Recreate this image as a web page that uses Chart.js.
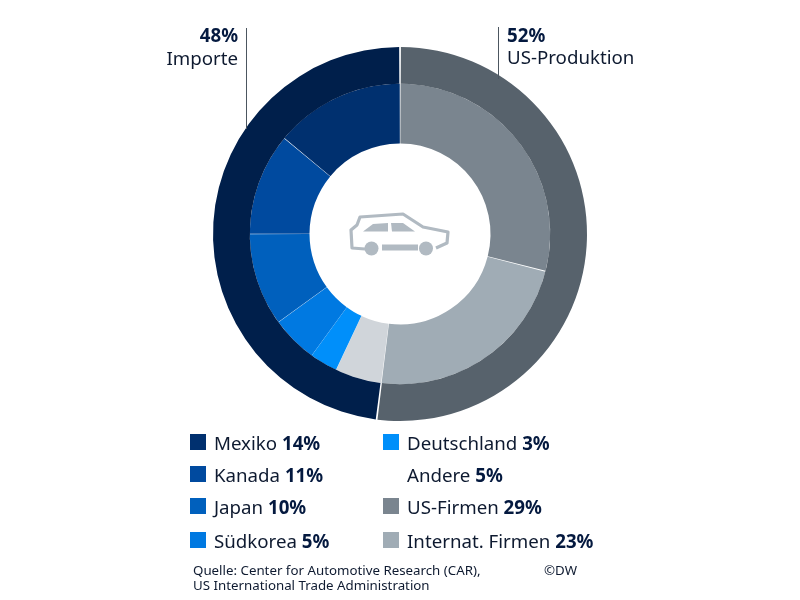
<!DOCTYPE html>
<html><head><meta charset="utf-8">
<style>html,body{margin:0;padding:0;background:#fff}#w{position:relative;width:800px;height:600px}</style>
<script src="https://cdn.jsdelivr.net/npm/chart.js@4"></script>
</head><body><div id="w"><canvas id="c" width="800" height="600"></canvas></div>
<script>
const groupLabels = ['US-Produktion', 'Importe'];
const groupValues = [52, 48];
const groupColors = ['#57626c', '#001f4b'];
const partLabels = ['US-Firmen', 'Internat. Firmen', 'Andere', 'Deutschland', 'Südkorea', 'Japan', 'Kanada', 'Mexiko'];
const partValues = [29, 23, 5, 3, 5, 10, 11, 14];
const partColors = ['#7a858f', '#a0acb5', '#d0d5da', '#008ffa', '#0079e1', '#0060bd', '#004a9f', '#00306f'];
const legendLeft = ['Mexiko', 'Kanada', 'Japan', 'Südkorea'];
const legendRight = ['Deutschland', 'Andere', 'US-Firmen', 'Internat. Firmen'];
const noSwatch = ['Andere'];
const sourceLines = ['Quelle: Center for Automotive Research (CAR),', 'US International Trade Administration'];
const credit = '©DW';
const FONT = '"Noto Sans"';
const INK = '#0e1a30', BOLD = '#04193f', LINE = '#4c5660', ICON = '#b1bac2';

const overlay = {
  id: 'overlay',
  afterDraw(chart) {
    const ctx = chart.ctx;
    ctx.save();
    ctx.textBaseline = 'alphabetic';
    const T = (s, x, y, font, col, align) => {
      ctx.font = font; ctx.fillStyle = col; ctx.textAlign = align || 'left'; ctx.fillText(s, x, y);
    };
    ctx.strokeStyle = LINE; ctx.lineWidth = 1;
    ctx.beginPath(); ctx.moveTo(246.5, 28); ctx.lineTo(246.5, 129); ctx.moveTo(498.5, 27); ctx.lineTo(498.5, 79); ctx.stroke();
    T(groupValues[1] + '%', 238, 42, 'bold 18.7px ' + FONT, BOLD, 'right');
    T(groupLabels[1], 238, 65, '18.7px ' + FONT, INK, 'right');
    T(groupValues[0] + '%', 507, 42, 'bold 18.7px ' + FONT, BOLD);
    T(groupLabels[0], 507, 64, '18.7px ' + FONT, INK);

    const rows = [450, 482, 514, 548];
    const drawCol = (names, sx, tx) => names.forEach((n, i) => {
      const k = partLabels.indexOf(n);
      if (!noSwatch.includes(n)) { ctx.fillStyle = partColors[k]; ctx.fillRect(sx, rows[i] - 16, 16, 16); }
      T(n + ' ', tx, rows[i], '18.7px ' + FONT, INK);
      const w = ctx.measureText(n + ' ').width;
      T(partValues[k] + '%', tx + w, rows[i], 'bold 18.7px ' + FONT, BOLD);
    });
    drawCol(legendLeft, 190, 214);
    drawCol(legendRight, 383, 407);

    T(sourceLines[0], 193, 575, '13.3px ' + FONT, INK);
    T(sourceLines[1], 193, 590, '13.3px ' + FONT, INK);
    T(credit, 544, 575, '13.3px ' + FONT, INK);

    // car icon, placed relative to the doughnut centre
    const cx = (chart.chartArea.left + chart.chartArea.right) / 2;
    const cy = (chart.chartArea.top + chart.chartArea.bottom) / 2;
    ctx.translate(cx, cy);
    ctx.strokeStyle = ICON; ctx.fillStyle = ICON; ctx.lineWidth = 3.2; ctx.lineJoin = 'round';
    ctx.beginPath();
    [[-35,15],[-48,14],[-49,-4],[-43,-9],[-40,-17],[3,-20],[23,-7],[48,-2],[47,9],[36,14]]
      .forEach((p, i) => i ? ctx.lineTo(p[0], p[1]) : ctx.moveTo(p[0], p[1]));
    ctx.stroke();
    ctx.fillRect(-18, 10.5, 36, 6);
    [[-28.5, 14.5], [26, 14.5]].forEach(p => { ctx.beginPath(); ctx.arc(p[0], p[1], 7, 0, 7); ctx.fill(); });
    [[[-37,-2.5],[-27,-10],[-12,-11],[-12,-2.5]], [[-9,-11],[3,-11],[15,-2.5],[-8,-2.5]]].forEach(poly => {
      ctx.beginPath(); poly.forEach((p, i) => i ? ctx.lineTo(p[0], p[1]) : ctx.moveTo(p[0], p[1])); ctx.closePath(); ctx.fill();
    });
    ctx.restore();
  }
};

new Chart(document.getElementById('c'), {
  type: 'doughnut',
  data: {
    labels: partLabels,
    datasets: [
      { data: groupValues, backgroundColor: groupColors, borderWidth: 0, spacing: 1, weight: 37 },
      { data: partValues, backgroundColor: partColors, borderWidth: 0, spacing: 1, weight: 60 }
    ]
  },
  options: {
    responsive: false, animation: false, cutout: 90,
    layout: { padding: { left: 213, right: 213, top: 47, bottom: 179 } },
    plugins: { legend: { display: false }, tooltip: { enabled: false } }
  },
  plugins: [overlay]
});
</script></body></html>
